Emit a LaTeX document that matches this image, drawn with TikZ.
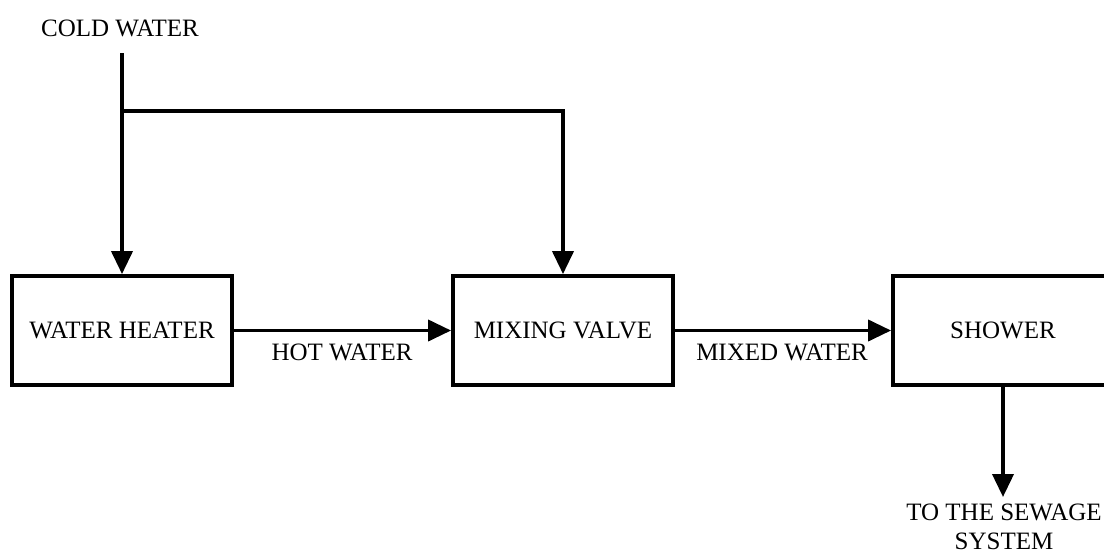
\documentclass[tikz,border=0pt]{standalone}
\usepackage{fontspec}
\setmainfont{Liberation Serif}
\usetikzlibrary{arrows.meta}
\begin{document}
\begin{tikzpicture}[x=1pt,y=-1pt,
  every node/.style={font=\fontsize{25}{34}\selectfont},
  blk/.style={draw,line width=3.8pt,minimum width=220pt,minimum height=109pt,inner sep=0pt},
  lbl/.style={inner sep=0pt},
  flow/.style={line width=3.8pt,-{Triangle[length=23pt,width=21pt]}},
  pipe/.style={line width=3.8pt}]
\useasboundingbox (0,0) rectangle (1104,555);
\clip (0,0) rectangle (1104,555);
\node[lbl] (cold) at (120,28) {COLD WATER};
\node[blk] (heater) at (122,330.5) {WATER HEATER};
\node[blk] (mixer) at (563,330.5) {MIXING VALVE};
\node[blk] (shower) at (1003,330.5) {SHOWER};
\node[lbl] (hot) at (342,352) {HOT WATER};
\node[lbl] (mixed) at (782,352) {MIXED WATER};
\node[lbl,align=center,anchor=north,font=\fontsize{25}{29}\selectfont] (sewage) at (1004,504) {TO THE SEWAGE\\SYSTEM};
\coordinate (start) at (122,53);
\coordinate (junc) at (122,111);
\coordinate (drain) at (1003,497);
\draw[flow] (start) -- (heater.north);
\draw[flow] (junc) -| (mixer.north);
\draw[flow] (heater.east) -- (mixer.west);
\draw[flow] (mixer.east) -- (shower.west);
\draw[flow] (shower.south) -- (drain);
\end{tikzpicture}
\end{document}
